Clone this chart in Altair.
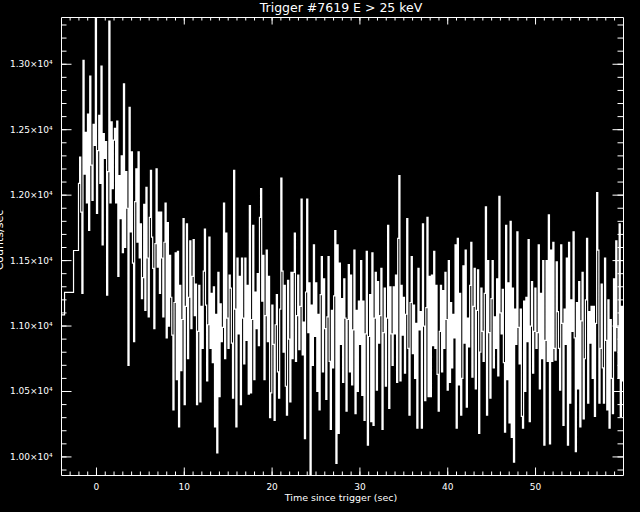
import altair as alt
import pandas as pd

title_text = "Trigger #7619 E > 25 keV"
x_title = "Time since trigger (sec)"
y_title = "Counts/sec"

# 1.024 s pre-trigger bins (start times, sec) and their rates
pre_start = [-4.66, -3.636, -2.612]
pre_rate = [11085, 11257, 11577]

# 0.128 s bins starting at -2.048 s (one row of 8 = 1.024 s)
bin_start0 = -2.048
bin_width = 0.128

rate_m2_6 = [
    12090, 12290, 11870, 11250, 13030, 12160, 12480, 11940,
    12620, 11730, 12910, 12230, 11960, 12540, 12380, 13420,
    11860, 12340, 12610, 12090, 12985, 11620, 12470, 12280,
    12410, 11236, 12180, 13330, 11940, 12560, 12050, 12420,
    12510, 11940, 12565, 11380, 12150, 11820, 12300, 11560,
    12850, 11600, 12180, 11900, 10700, 12670, 11720, 12330,
    11480, 10880, 11950, 12200, 11640, 12330, 11520, 11780,
    11210, 11370, 11930, 11120, 12060, 11520, 11070, 11830,
]
rate_6_14 = [
    12190, 11680, 11440, 10980, 11630, 12200, 11450, 11870,
    11250, 11870, 11520, 11070, 11640, 11940, 10910, 11790,
    11000, 11540, 11220, 10930, 10360, 11180, 11560, 10590,
    11570, 10230, 11310, 10660, 11050, 11820, 10400, 11150,
    11780, 10750, 11220, 11650, 10980, 11380, 11660, 11080,
    11320, 10400, 10960, 11310, 10420, 11150, 10830, 11420,
    11740, 11160, 10580, 11010, 11680, 10830, 11250, 10720,
    11300, 10230, 11090, 10030, 11410, 10460, 11170, 10880,
]
rate_14_22 = [
    10990, 11940, 10750, 11710, 11060, 10830, 11390, 11290,
    10870, 10450, 12190, 11130, 10230, 11520, 10940, 11380,
    10400, 11520, 11060, 10710, 11520, 10890, 11310, 10480,
    11920, 10490, 11050, 11770, 10590, 11260, 10980, 11400,
    10850, 11830, 12050, 11190, 11540, 10590, 11080, 11580,
    10880, 11380, 10300, 10490, 11160, 10860, 10280, 11010,
    11240, 10650, 10450, 11130, 12130, 11420, 10800, 11310,
    10540, 10320, 11350, 10900, 10420, 11410, 10750, 11410,
]
rate_22_30 = [
    11710, 10730, 11080, 11390, 10820, 11150, 11970, 10780,
    11030, 10140, 11260, 11970, 10950, 11330, 9800, 11160,
    10700, 11620, 10920, 11330, 10500, 11090, 10360, 11240,
    11530, 10650, 11360, 10980, 10440, 11070, 11530, 10730,
    10210, 11120, 10680, 11230, 11730, 9950, 11620, 10180,
    11480, 10860, 11210, 10570, 11360, 11060, 10350, 11050,
    11470, 10650, 11390, 10550, 10970, 11580, 10330, 11120,
    10500, 11190, 10860, 11500, 10470, 11190, 10280, 10940,
]
rate_30_38 = [
    11570, 10090, 10920, 11240, 10270, 11560, 10240, 11060,
    11410, 10510, 11340, 10870, 11080, 11440, 10210, 10950,
    11290, 10540, 11060, 11770, 10370, 11300, 10940, 10700,
    11300, 10940, 11390, 10570, 11670, 12150, 10580, 11310,
    10930, 11220, 10640, 11090, 11820, 10830, 10320, 11180,
    11530, 10790, 11160, 10600, 11020, 10220, 11440, 10970,
    11110, 10220, 11780, 11000, 10430, 11140, 11830, 10460,
    11380, 10460, 11390, 10850, 11570, 10830, 11310, 10630,
]
rate_38_46 = [
    10350, 10960, 11310, 10650, 11270, 10830, 11410, 11050,
    10510, 11500, 10570, 11180, 10680, 11090, 10910, 11620,
    10220, 11670, 10550, 11250, 10320, 10600, 11460, 10870,
    11580, 10380, 11060, 10840, 11310, 11640, 10610, 11150,
    11440, 10520, 11120, 11430, 10180, 10800, 11290, 10960,
    10730, 11250, 11910, 10320, 11500, 10950, 10450, 11210,
    11500, 10680, 11070, 10830, 11360, 10620, 11990, 11100,
    10940, 11280, 10720, 10190, 11770, 10590, 11330, 10260,
]
rate_46_54 = [
    11800, 10150, 11290, 9960, 11130, 10860, 11720, 10990,
    10710, 11130, 10310, 10220, 11190, 10500, 11220, 10880,
    11660, 10270, 11000, 11340, 10640, 10960, 11290, 10830,
    10950, 11620, 10520, 11250, 10750, 11500, 10090, 10890,
    11500, 10730, 11850, 10100, 11580, 10730, 11640, 10830,
    10740, 11490, 11110, 10830, 10510, 11620, 11020, 10240,
    11130, 10860, 11520, 10090, 11640, 10410, 11200, 10960,
    11720, 10910, 10040, 11180, 10520, 11340, 10230, 11040,
]
rate_54_60 = [
    11410, 10290, 10750, 11200, 11670, 10410, 11110, 10870,
    11150, 10600, 11150, 10310, 11020, 12020, 11580, 10410,
    10830, 11320, 10680, 10410, 11520, 10890, 10360, 11200,
    10220, 11050, 10600, 10330, 11360, 10810, 11650, 10990,
    10600, 11780, 10310, 11150, 10580, 11000, 10700, 10900,
]

x_major = [0, 10, 20, 30, 40, 50]
x_labels = ["0", "10", "20", "30", "40", "50"]
x_minor = list(range(-3, 60))
y_major = [10000, 10500, 11000, 11500, 12000, 12500, 13000]
y_labels = ["1.00×10⁴", "1.05×10⁴", "1.10×10⁴", "1.15×10⁴",
            "1.20×10⁴", "1.25×10⁴", "1.30×10⁴"]
y_minor = list(range(9900, 13400, 100))

# ---- build table ----
fine = rate_m2_6 + rate_6_14 + rate_14_22 + rate_22_30 + rate_30_38 + rate_38_46 + rate_46_54 + rate_54_60
times = list(pre_start) + [bin_start0 + bin_width * i for i in range(len(fine))]
rates = list(pre_rate) + fine
times.append(bin_start0 + bin_width * len(fine))
rates.append(fine[-1])
line_df = pd.DataFrame({"t": times, "rate": rates})

W, H = 562, 458
FONT = "DejaVu Sans"
x_scale = alt.Scale(domain=[-4.04, 59.96], nice=False, zero=False)
y_scale = alt.Scale(domain=[9862, 13361], nice=False, zero=False)

line = alt.Chart(line_df).mark_line(
    color="white", strokeWidth=1.2, interpolate="step-after", clip=True
).encode(
    x=alt.X("t:Q", scale=x_scale, axis=None),
    y=alt.Y("rate:Q", scale=y_scale, axis=None),
)


def xticks(vals, length, top):
    df = pd.DataFrame({"t": vals})
    y0 = 0 if top else H
    y1 = length if top else H - length
    return alt.Chart(df).mark_rule(color="white", strokeWidth=1).encode(
        x=alt.X("t:Q", scale=x_scale, axis=None),
        y=alt.value(y0), y2=alt.value(y1))


def yticks(vals, length, right):
    df = pd.DataFrame({"rate": vals})
    x0 = W if right else 0
    x1 = W - length if right else length
    return alt.Chart(df).mark_rule(color="white", strokeWidth=1).encode(
        y=alt.Y("rate:Q", scale=y_scale, axis=None),
        x=alt.value(x0), x2=alt.value(x1))


ticks = [
    xticks(x_major, 7.5, False), xticks(x_minor, 3.5, False),
    xticks(x_major, 7.5, True), xticks(x_minor, 3.5, True),
    yticks(y_major, 10.5, False), yticks(y_minor, 5.5, False),
    yticks(y_major, 10.5, True), yticks(y_minor, 5.5, True),
]

xlab_df = pd.DataFrame({"t": x_major, "lab": x_labels})
ylab_df = pd.DataFrame({"rate": y_major, "lab": y_labels})
xtick_labels = alt.Chart(xlab_df).mark_text(
    color="white", font=FONT, fontSize=9, align="center", baseline="top"
).encode(x=alt.X("t:Q", scale=x_scale, axis=None), y=alt.value(H + 8), text="lab:N")
ytick_labels = alt.Chart(ylab_df).mark_text(
    color="white", font=FONT, fontSize=9, align="left", baseline="middle"
).encode(y=alt.Y("rate:Q", scale=y_scale, axis=None), x=alt.value(-51), text="lab:N")

label_df = pd.DataFrame({"title": [title_text], "xt": [x_title], "yt": [y_title]})
title = alt.Chart(label_df).mark_text(
    color="white", font=FONT, fontSize=12.5, align="center", baseline="alphabetic"
).encode(text="title:N", x=alt.value(W / 2 - 1), y=alt.value(-5))
xlab = alt.Chart(label_df).mark_text(
    color="white", font=FONT, fontSize=9.5, align="center", baseline="alphabetic"
).encode(text="xt:N", x=alt.value(W / 2 - 1), y=alt.value(H + 26))
ylab = alt.Chart(label_df).mark_text(
    color="white", font=FONT, fontSize=11, align="center", baseline="alphabetic", angle=270
).encode(text="yt:N", x=alt.value(-58.5), y=alt.value(223))

chart = alt.layer(line, *ticks, xtick_labels, ytick_labels, title, xlab, ylab).properties(
    width=W, height=H,
    autosize=alt.AutoSizeParams(type="none"),
    padding={"left": 61, "top": 17, "right": 17, "bottom": 37},
    background="black",
).configure_view(
    stroke="white", strokeWidth=1
)

chart.save("out.html", embed_options={"renderer": "svg", "actions": False,
                                      "defaultStyle": "body{margin:0;background:#000;}"})
